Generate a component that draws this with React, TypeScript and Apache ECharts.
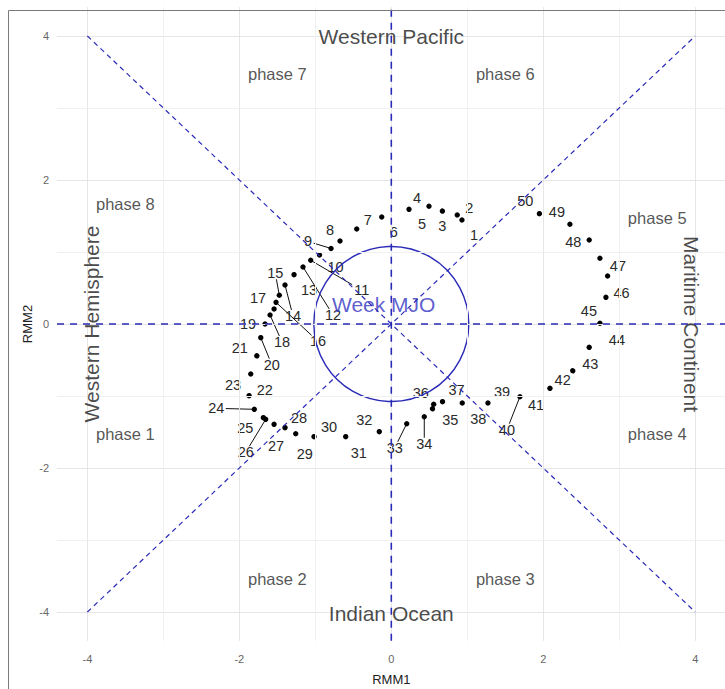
import React, { useEffect, useRef } from "react";
import * as echarts from "echarts";

// ---- data ----
const dayLabels = [
  "1", "2", "3", "4", "5", "6", "7", "8", "9", "10",
  "11", "12", "13", "14", "15", "16", "17", "18", "19", "20",
  "21", "22", "23", "24", "25", "26", "27", "28", "29", "30",
  "31", "32", "33", "34", "35", "36", "37", "38", "39", "40",
  "41", "42", "43", "44", "45", "46", "47", "48", "49", "50",
];
const rmm1 = [
  0.93, 0.868, 0.671, 0.496, 0.233, -0.126, -0.455, -0.675, -0.793, -0.945,
  -1.061, -1.162, -1.28, -1.399, -1.474, -1.517, -1.543, -1.596, -1.662, -1.718,
  -1.771, -1.85, -1.872, -1.803, -1.684, -1.653, -1.543, -1.399, -1.258, -1.017,
  -0.6, -0.158, 0.203, 0.434, 0.539, 0.558, 0.674, 0.934, 1.272, 1.693,
  2.088, 2.387, 2.605, 2.746, 2.825, 2.847, 2.746, 2.605, 2.351, 1.947,
];
const rmm2 = [
  1.444, 1.514, 1.579, 1.635, 1.593, 1.486, 1.319, 1.153, 1.049, 0.958,
  0.885, 0.792, 0.685, 0.542, 0.399, 0.301, 0.208, 0.125, 0.0, -0.19,
  -0.431, -0.694, -0.996, -1.185, -1.301, -1.324, -1.393, -1.44, -1.524, -1.565,
  -1.565, -1.496, -1.385, -1.288, -1.163, -1.115, -1.079, -1.097, -1.097, -1.01,
  -0.893, -0.639, -0.324, 0.01, 0.371, 0.667, 0.913, 1.167, 1.385, 1.546,
];
const xTicks = [-4, -2, 0, 2, 4];
const yTicks = [-4, -2, 0, 2, 4];
const gridMajor = [-4, -2, 0, 2, 4];
const gridMinor = [-3, -1, 1, 3];
const axisMin = -4.4;
const axisMax = 4.4;
const mjoRadius = [1.02];
const mjoCircleLabel = "Week MJO";
const mjoLabelX = -0.1;
const mjoLabelY = 0.27;

const phaseNames = ["phase 1", "phase 2", "phase 3", "phase 4", "phase 5", "phase 6", "phase 7", "phase 8"];
const phaseX = [-3.5, -1.5, 1.5, 3.5, 3.5, 1.5, -1.5, -3.5];
const phaseY = [-1.53, -3.54, -3.54, -1.53, 1.47, 3.47, 3.47, 1.67];

const regionNames = ["Western Pacific", "Indian Ocean", "Western Hemisphere", "Maritime Continent"];
const regionX = [0, 0, -3.94, 3.95];
const regionY = [4, -4.02, 0, 0];
const regionRotate = [0, 0, 90, -90];

// dashed reference lines: [x1, y1, x2, y2]
const axisCross = [
  [axisMin, 0, axisMax, 0],
  [0, axisMin, 0, axisMax],
];
const diagonals = [
  [-4, 4, 4, -4],
  [-4, -4, 4, 4],
];

// label placement (pixels relative to each point, like ggrepel)
const labelOffsets = [
  [12, 15], [12, -7], [0, 16], [-12, -8], [13, 15], [12, 15], [11, -9], [-10, -11], [-23, -7], [16, 12],
  [51, 30], [30, 48], [15, 15], [8, 31], [-4, -22], [42, 39], [-16, -11], [12, 27], [-17, 0], [11, 27],
  [-17, -7], [14, 16], [-16, -11], [-38, -1], [-18, 10], [-20, 33], [2, 22], [14, -10], [9, 20], [15, -10],
  [13, 16], [-15, -12], [-12, 24], [0, 27], [18, 12], [-13, -11], [14, -12], [16, 16], [14, -11], [-13, 33],
  [-14, 17], [-10, 10], [1, 17], [17, 17], [-17, 14], [14, 17], [18, 8], [-16, 2], [-13, -12], [-14, -12],
];
const segmentDays = ["9", "11", "12", "14", "15", "16", "18", "20", "24", "26", "33", "34", "40"];

const FONT = "'Liberation Sans', Arial, Helvetica, sans-serif";
const LINE_BLUE = "#2a2ab8";

export default function App() {
  const ref = useRef<HTMLDivElement>(null);

  useEffect(() => {
    document.body.style.margin = "0";
    if (!ref.current) return;
    const chart = echarts.init(ref.current, undefined, { renderer: "svg" });

    const gridLineSeries = {
      type: "line",
      data: [],
      silent: true,
      z: 0,
      markLine: {
        silent: true,
        symbol: "none",
        label: { show: false },
        animation: false,
        data: [
          ...gridMajor.map((v) => ({ xAxis: v, lineStyle: { color: "#e6e6e6", width: 1, type: "solid" } })),
          ...gridMajor.map((v) => ({ yAxis: v, lineStyle: { color: "#e6e6e6", width: 1, type: "solid" } })),
          ...gridMinor.map((v) => ({ xAxis: v, lineStyle: { color: "#f0f0f0", width: 1, type: "solid" } })),
          ...gridMinor.map((v) => ({ yAxis: v, lineStyle: { color: "#f0f0f0", width: 1, type: "solid" } })),
        ],
      },
    };

    const refLine = (seg: number[], width: number, dash: number[]) => ({
      type: "line",
      data: [
        [seg[0], seg[1]],
        [seg[2], seg[3]],
      ],
      symbol: "none",
      silent: true,
      z: 10,
      lineStyle: { color: LINE_BLUE, width, type: dash },
    });

    const circleSeries = {
      type: "custom",
      silent: true,
      z: 4,
      data: mjoRadius.map((r) => [0, 0, r]),
      renderItem: (_p: any, api: any) => {
        const c = api.coord([api.value(0), api.value(1)]);
        const r = api.size([api.value(2), 0])[0];
        return {
          type: "circle",
          shape: { cx: c[0], cy: c[1], r },
          style: { fill: "none", stroke: LINE_BLUE, lineWidth: 1.4 },
        };
      },
    };

    const pointSeries = {
      type: "custom",
      silent: true,
      z: 3,
      data: rmm1.map((x, i) => [x, rmm2[i], i]),
      renderItem: (_p: any, api: any) => {
        const i = api.value(2);
        const p = api.coord([api.value(0), api.value(1)]);
        const off = labelOffsets[i];
        const lx = p[0] + off[0];
        const ly = p[1] + off[1];
        const txt = dayLabels[i];
        const children: any[] = [];
        if (segmentDays.includes(txt)) {
          const hw = txt.length * 4 + 1.5;
          const hh = 6;
          const vx = p[0] - lx;
          const vy = p[1] - ly;
          const tx = vx === 0 ? Infinity : hw / Math.abs(vx);
          const ty = vy === 0 ? Infinity : hh / Math.abs(vy);
          const t = Math.min(tx, ty);
          children.push({
            type: "line",
            shape: { x1: lx + vx * t, y1: ly + vy * t, x2: p[0], y2: p[1] },
            style: { stroke: "#111", lineWidth: 1 },
          });
        }
        children.push({
          type: "circle",
          shape: { cx: p[0], cy: p[1], r: 2.7 },
          style: { fill: "#000" },
        });
        children.push({
          type: "text",
          x: lx,
          y: ly,
          style: {
            text: txt,
            fontSize: 14.5,
            fontFamily: FONT,
            fill: "#2a2a2a",
            align: "center",
            verticalAlign: "middle",
          },
        });
        return { type: "group", children };
      },
    };

    const textSeries = {
      type: "scatter",
      silent: true,
      z: 5,
      symbolSize: 0,
      data: [
        ...phaseNames.map((n, i) => ({
          name: n,
          value: [phaseX[i], phaseY[i]],
          label: { fontSize: 16.5, color: "#2a2a2a" },
        })),
        ...regionNames.map((n, i) => ({
          name: n,
          value: [regionX[i], regionY[i]],
          label: { fontSize: 21, color: "#1a1a1a", rotate: regionRotate[i] },
        })),
        {
          name: mjoCircleLabel,
          value: [mjoLabelX, mjoLabelY],
          label: { fontSize: 21, color: "#3333c0" },
        },
      ],
      label: {
        show: true,
        position: "inside",
        formatter: (p: any) => p.name,
        fontFamily: FONT,
      },
    };

    chart.setOption({
      animation: false,
      backgroundColor: "#ffffff",
      grid: { left: 57, top: 7.2, width: 668.6, height: 633.6, containLabel: false, outerBoundsMode: "none" },
      xAxis: {
        type: "value",
        min: axisMin,
        max: axisMax,
        name: "RMM1",
        nameLocation: "middle",
        nameGap: 32,
        nameTextStyle: { fontSize: 13, color: "#222", fontFamily: FONT },
        axisLine: { show: false },
        axisTick: { show: false },
        splitLine: { show: false },
        axisLabel: {
          customValues: xTicks,
          fontSize: 11,
          color: "#666",
          margin: 13,
          fontFamily: FONT,
        },
      },
      yAxis: {
        type: "value",
        min: axisMin,
        max: axisMax,
        name: "RMM2",
        nameLocation: "middle",
        nameGap: 23,
        nameMoveOverlap: false,
        nameTextStyle: { fontSize: 13, color: "#222", fontFamily: FONT },
        axisLine: { show: false },
        axisTick: { show: false },
        splitLine: { show: false },
        axisLabel: {
          customValues: yTicks,
          fontSize: 11,
          color: "#666",
          margin: 8,
          fontFamily: FONT,
        },
      },
      graphic: [
        { type: "line", z: 100, shape: { x1: 8.5, y1: 10.5, x2: 8.5, y2: 689 }, style: { stroke: "#7a7a7a", lineWidth: 1 } },
        { type: "line", z: 100, shape: { x1: 8.5, y1: 10.5, x2: 725, y2: 10.5 }, style: { stroke: "#7a7a7a", lineWidth: 1 } },
      ],
      series: [
        gridLineSeries,
        pointSeries,
        circleSeries,
        textSeries,
        ...axisCross.map((s) => refLine(s, 1.6, [7, 6])),
        ...diagonals.map((s) => refLine(s, 1.2, [5, 4])),
      ],
    });

    return () => chart.dispose();
  }, []);

  return <div ref={ref} style={{ width: 725, height: 689 }} />;
}
